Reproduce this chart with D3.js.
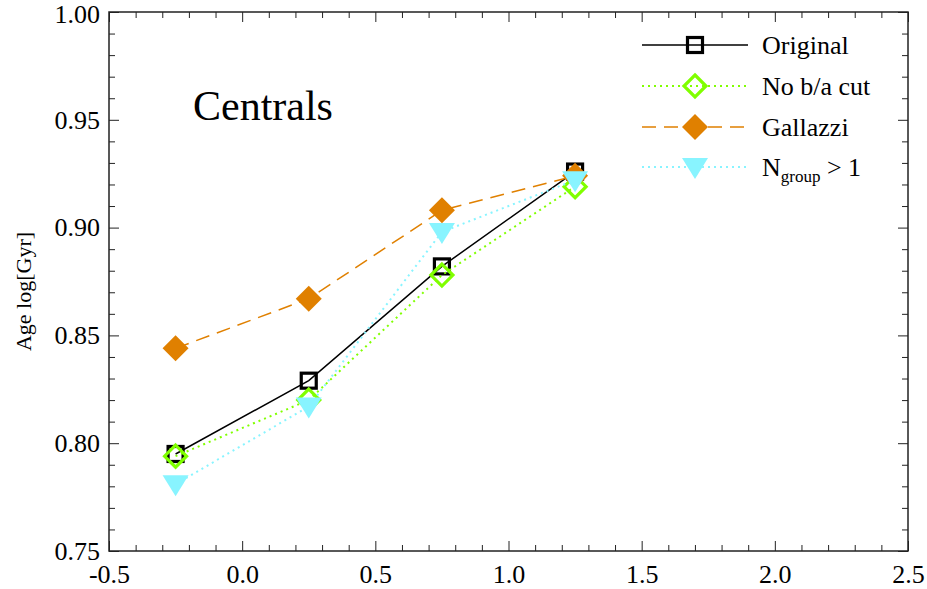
<!DOCTYPE html>
<html><head><meta charset="utf-8">
<script src="https://cdn.jsdelivr.net/npm/d3@7"></script>
<style>body{margin:0;background:#fff}svg{display:block}</style>
</head><body>
<svg id="c" width="927" height="589"></svg>
<script>
const xValues = [-0.25, 0.25, 0.75, 1.25];
const original = [0.795, 0.829, 0.882, 0.926];
const noBaCut = [0.794, 0.820, 0.878, 0.919];
const gallazzi = [0.844, 0.867, 0.908, 0.924];
const nGroup = [0.781, 0.817, 0.898, 0.922];
const xTicks = [-0.5, 0.0, 0.5, 1.0, 1.5, 2.0, 2.5];
const yTicks = [0.75, 0.80, 0.85, 0.90, 0.95, 1.00];
const seriesNames = ["Original", "No b/a cut", "Gallazzi", "Ngroup"];

const svg = d3.select("#c");
const L = 109, R = 908, T = 12, B = 551;
const x = d3.scaleLinear().domain([-0.5, 2.5]).range([L, R]);
const y = d3.scaleLinear().domain([0.75, 1.00]).range([B, T]);

const axisColor = "#222";
const fontFam = "Liberation Serif, Times New Roman, serif";
const xMinor = d3.range(-0.5, 2.5001, 0.1).map(v => +v.toFixed(2));
const yMinor = d3.range(0.75, 1.0001, 0.01).map(v => +v.toFixed(3));
function isMajor(v, arr){ return arr.some(t => Math.abs(t - v) < 1e-6); }
const fmtX = d => d3.format(".1f")(d).replace("\u2212", "-");
const fmtY = d => d3.format(".2f")(d).replace("\u2212", "-");

const axes = svg.append("g");
// bottom
axes.append("g").attr("transform", `translate(0,${B})`)
  .call(d3.axisBottom(x).tickValues(xMinor).tickFormat("").tickSize(0))
  .call(g => { g.select(".domain").remove(); g.selectAll(".tick line").attr("y2", d => isMajor(d, xTicks) ? -10 : -6).attr("stroke", axisColor); });
axes.append("g").attr("transform", `translate(0,${B})`)
  .call(d3.axisBottom(x).tickValues(xTicks).tickFormat(fmtX).tickSize(0).tickPadding(14))
  .call(g => { g.attr("font-family", null).attr("font-size", null); g.select(".domain").remove();
    g.selectAll("text").style("font-family", fontFam).style("font-size", "26px").attr("fill", "#000").attr("dy", "0.71em"); });
// top
axes.append("g").attr("transform", `translate(0,${T})`)
  .call(d3.axisTop(x).tickValues(xMinor).tickFormat("").tickSize(0))
  .call(g => { g.select(".domain").remove(); g.selectAll(".tick line").attr("y2", d => isMajor(d, xTicks) ? 10 : 6).attr("stroke", axisColor); });
// left
axes.append("g").attr("transform", `translate(${L},0)`)
  .call(d3.axisLeft(y).tickValues(yMinor).tickFormat("").tickSize(0))
  .call(g => { g.select(".domain").remove(); g.selectAll(".tick line").attr("x2", d => isMajor(d, yTicks) ? 10 : 6).attr("stroke", axisColor); });
axes.append("g").attr("transform", `translate(${L},0)`)
  .call(d3.axisLeft(y).tickValues(yTicks).tickFormat(fmtY).tickSize(0).tickPadding(9))
  .call(g => { g.attr("font-family", null).attr("font-size", null); g.select(".domain").remove();
    g.selectAll("text").style("font-family", fontFam).style("font-size", "26px").attr("fill", "#000").attr("dy", d => d === 1.00 ? "0.42em" : "0.32em"); });
// right
axes.append("g").attr("transform", `translate(${R},0)`)
  .call(d3.axisRight(y).tickValues(yMinor).tickFormat("").tickSize(0))
  .call(g => { g.select(".domain").remove(); g.selectAll(".tick line").attr("x2", d => isMajor(d, yTicks) ? -10 : -6).attr("stroke", axisColor); });
// frame
axes.append("rect").attr("x", L).attr("y", T).attr("width", R - L).attr("height", B - T)
  .attr("fill", "none").attr("stroke", axisColor).attr("stroke-width", 1.5);

// y label
svg.append("text").attr("transform", `translate(31,${(T+B)/2 + 10}) rotate(-90)`)
  .style("font-family", fontFam).attr("text-anchor", "middle").attr("font-size", 22).text("Age log[Gyr]");

// Centrals label
svg.append("text").attr("x", 193).attr("y", 120).style("font-family", fontFam).attr("font-size", 42).text("Centrals");

const styles = {
  "Original": {color: "#000", dash: null, width: 1.5, marker: "square"},
  "No b/a cut": {color: "#80ff00", dash: "2,4", width: 2, marker: "diamondOpen"},
  "Gallazzi": {color: "#e08000", dash: "14,8", width: 1.5, marker: "diamondFilled"},
  "Ngroup": {color: "#88f4ff", dash: "2,4", width: 2, marker: "triangle"}
};
const dataBy = {"Original": original, "No b/a cut": noBaCut, "Gallazzi": gallazzi, "Ngroup": nGroup};

function drawMarker(g, type, color, cx, cy){
  if (type === "square") {
    g.append("rect").attr("x", cx - 7.5).attr("y", cy - 7.5).attr("width", 15).attr("height", 15)
      .attr("fill", "none").attr("stroke", color).attr("stroke-width", 3.2);
  } else if (type === "diamondOpen") {
    g.append("path").attr("d", `M${cx},${cy-11}L${cx+11},${cy}L${cx},${cy+11}L${cx-11},${cy}Z`)
      .attr("fill", "none").attr("stroke", color).attr("stroke-width", 3.2);
  } else if (type === "diamondFilled") {
    g.append("path").attr("d", `M${cx},${cy-13}L${cx+13},${cy}L${cx},${cy+13}L${cx-13},${cy}Z`)
      .attr("fill", color);
  } else if (type === "triangle") {
    g.append("path").attr("d", `M${cx-13},${cy-9}L${cx+13},${cy-9}L${cx},${cy+12}Z`)
      .attr("fill", color);
  }
}

const plot = svg.append("g");
seriesNames.forEach(name => {
  const s = styles[name];
  const vals = dataBy[name];
  const line = d3.line().x((d, i) => x(xValues[i])).y(d => y(d));
  plot.append("path").datum(vals).attr("d", line).attr("fill", "none")
    .attr("stroke", s.color).attr("stroke-width", s.width).attr("stroke-dasharray", s.dash);
  vals.forEach((v, i) => drawMarker(plot, s.marker, s.color, x(xValues[i]), y(v)));
});

// legend
const legRows = [45, 86, 127, 167];
const leg = svg.append("g");
seriesNames.forEach((name, i) => {
  const s = styles[name];
  const yy = legRows[i];
  leg.append("line").attr("x1", 642).attr("x2", 748).attr("y1", yy).attr("y2", yy)
    .attr("stroke", s.color).attr("stroke-width", s.width).attr("stroke-dasharray", s.dash);
  drawMarker(leg, s.marker, s.color, 695, yy);
  const t = leg.append("text").attr("x", 762).attr("y", yy + 9).style("font-family", fontFam).attr("font-size", 26);
  if (name === "Ngroup") {
    t.append("tspan").text("N");
    t.append("tspan").attr("font-size", 17).attr("dy", 6).text("group");
    t.append("tspan").attr("dy", -6).text(" > 1");
  } else {
    t.text(name);
  }
});
</script>
</body></html>
